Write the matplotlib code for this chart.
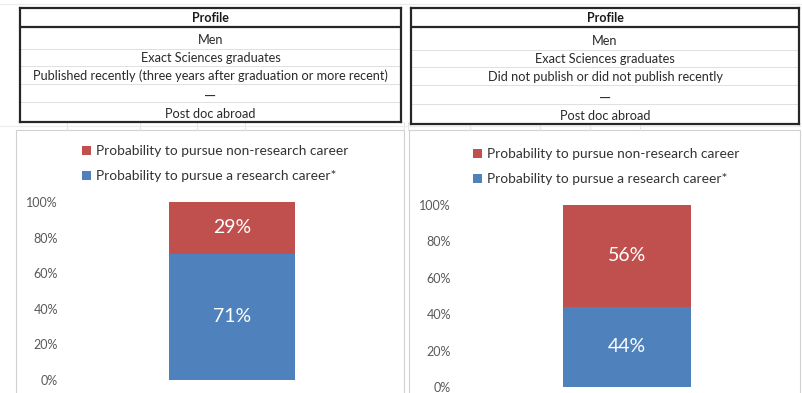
import matplotlib.pyplot as plt
import matplotlib.patches as patches

W, H = 802, 393

# profile tables
profile_header = "Profile"
profiles = [
    ["Men", "Exact Sciences graduates",
     "Published recently (three years after graduation or more recent)", "", "\u2014", "Post doc abroad"],
    ["Men", "Exact Sciences graduates",
     "Did not publish or did not publish recently", "", "\u2014", "Post doc abroad"],
]

# stacked bar data (percent)
series_names = ["Probability to pursue non-research career",
                "Probability to pursue a research career*"]
research = [71, 44]
non_research = [29, 56]
yticks = [0, 20, 40, 60, 80, 100]

red = "#C0504D"
blue = "#4F81BD"
font = "Lato"

plt.rcParams['font.family'] = [font, 'DejaVu Sans']

fig = plt.figure(figsize=(W / 100, H / 100), dpi=100)


def px_axes(x0, y0, x1, y1):
    # axes from pixel box (top-left origin)
    return fig.add_axes([x0 / W, 1 - y1 / H, (x1 - x0) / W, (y1 - y0) / H])


# faint spreadsheet gridlines and chart frames behind everything
bg = fig.add_axes([0, 0, 1, 1])
bg.set_xlim(0, W)
bg.set_ylim(H, 0)
bg.axis("off")
for gx in [67, 140, 197, 245, 404, 408, 470, 540, 590, 640]:
    bg.plot([gx, gx], [122, 130], color="#E4E4E4", lw=0.8)
for gy in [4, 126]:
    bg.plot([0, W], [gy, gy], color="#ECECEC", lw=0.8)

chart_boxes = [(16, 130, 404, 396), (409, 130, 800, 396)]
for (x0, y0, x1, y1) in chart_boxes:
    bg.add_patch(patches.Rectangle((x0, y0), x1 - x0, y1 - y0,
                                   facecolor="white", edgecolor="#D0D0D0", lw=0.8))

table_boxes = [(20, 8, 401, 122), (411, 8, 799, 124)]
for (x0, y0, x1, y1), rows in zip(table_boxes, profiles):
    ax = px_axes(x0, y0, x1, y1)
    ax.set_xlim(0, 1)
    ax.set_ylim(y1 - y0, 0)
    ax.set_xticks([])
    ax.set_yticks([])
    for s in ax.spines.values():
        s.set_linewidth(1.6)
        s.set_color("#262626")
    h = y1 - y0
    ax.axhline(19, color="#262626", lw=1.6)
    for ly in [41, 58, 76, 94]:
        ax.axhline(ly * h / 114, color="#E0E0E0", lw=0.7)
    ax.text(0.5, 9.5, profile_header, ha="center", va="center",
            fontsize=9, fontweight="bold", color="#1a1a1a")
    centers = [32.5, 50, 67.5, 80, 89, 106]
    for cy, txt in zip(centers, rows):
        if txt:
            ax.text(0.5, cy * h / 114, txt, ha="center", va="center",
                    fontsize=11 if txt == "\u2014" else 9.2, color="#2a2a2a")

plot_boxes = [(60, 202, 404, 380), (455, 205, 799, 387)]
legend_pos = [(82, 145), (473, 148)]
tick_pad = [1.5, 3]
bar_width = [0.366, 0.372]
for i, ((x0, y0, x1, y1), (lx, ly)) in enumerate(zip(plot_boxes, legend_pos)):
    ax = px_axes(x0, y0, x1, y1)
    ax.set_facecolor("none")
    ax.set_xlim(-0.5, 0.5)
    ax.set_ylim(0, 100)
    b1 = ax.bar(0, research[i], width=bar_width[i], color=blue)
    b2 = ax.bar(0, non_research[i], bottom=research[i], width=bar_width[i], color=red)
    ax.text(0, research[i] / 2, f"{research[i]}%", ha="center", va="center",
            color="white", fontsize=14)
    ax.text(0, research[i] + non_research[i] / 2, f"{non_research[i]}%",
            ha="center", va="center", color="white", fontsize=14)
    ax.set_yticks(yticks)
    ax.set_yticklabels([f"{t}%" for t in yticks])
    ax.set_xticks([])
    ax.tick_params(axis="y", length=0, pad=tick_pad[i], labelsize=9, labelcolor="#595959")
    for s in ax.spines.values():
        s.set_visible(False)
    ax.legend([b2, b1], series_names, loc="upper left",
              bbox_to_anchor=(lx / W, 1 - ly / H), bbox_transform=fig.transFigure,
              frameon=False, fontsize=9.9, handlelength=0.65, handleheight=0.65,
              handletextpad=0.35, labelspacing=0.95, borderpad=0, borderaxespad=0,
              labelcolor="#333333")

fig.savefig("out.png", dpi=100)
